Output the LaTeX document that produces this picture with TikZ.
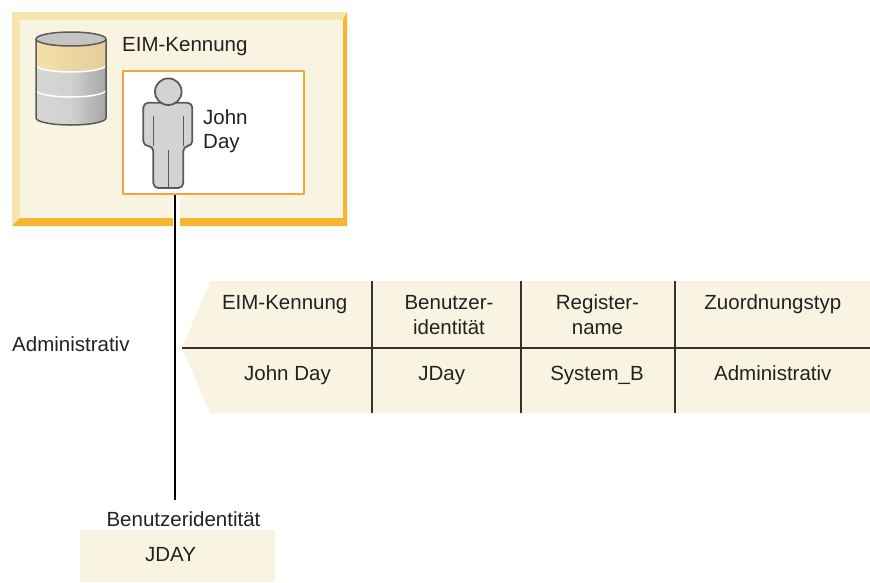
\documentclass[tikz,border=0pt]{standalone}
\usepackage{fontspec}
\setmainfont{Liberation Sans}
\definecolor{cream}{HTML}{F9F3E1}
\definecolor{borderlight}{HTML}{F8E5AE}
\definecolor{borderdark}{HTML}{F4B530}
\definecolor{orangeb}{HTML}{F6A53A}
\definecolor{textc}{HTML}{222222}
\definecolor{linec}{HTML}{333333}
\definecolor{cyltop}{HTML}{C4C4C4}
\definecolor{cyllight}{HTML}{D6D6D6}
\definecolor{cyldark}{HTML}{A6A6A6}
\definecolor{cylyellow}{HTML}{F6E0A8}
\definecolor{cylline}{HTML}{5A5A5A}
\definecolor{persfill}{HTML}{D3D3D3}
\definecolor{persline}{HTML}{5A5A5A}
\begin{document}
\begin{tikzpicture}[x=1pt,y=-1pt,line join=round,
  lbl/.style={font=\fontsize{20.5}{25}\selectfont, inner sep=0pt, text=textc},
  cell/.style={lbl, anchor=base},
  grid/.style={draw=linec, line width=1.3pt},
  conn/.style={draw=black, line width=2.4pt},
  cylarc/.style={x radius=35pt, y radius=7pt, start angle=180, end angle=360},
  pers/.style={fill=persfill, draw=persline, line width=1.8pt}]
\useasboundingbox (0,0) rectangle (870,582);

% outer EIM box with bevel
\fill[borderlight] (12,12) rectangle (347,226);
\fill[borderdark] (347,12) -- (347,226) -- (12,226) -- (20,218) -- (343,218) -- (343,20) -- cycle;
\fill[cream] (20,20) rectangle (343,218);

% database cylinder
\fill[left color=cyllight, right color=cyldark, middle color=cyllight!90!cyldark] (36,39) -- (36,118) arc[cylarc] -- (106,39) -- cycle;
\fill[left color=cylyellow, right color=cylyellow!92!black] (36,39) -- (36,65) arc[cylarc] -- (106,39) -- cycle;
\draw[white, line width=1.5pt] (36,65) arc[cylarc];
\draw[white, line width=1.5pt] (36,90) arc[cylarc];
\draw[cylline, line width=1.5pt] (36,39) -- (36,118) arc[cylarc] -- (106,39);
\filldraw[fill=cyltop, draw=cylline, line width=1.5pt] (71,39) ellipse[x radius=35pt, y radius=7pt];

\node[lbl, anchor=base west] (eimtitle) at (122,51.5) {EIM-Kennung};

% identity box
\node[draw=orangeb, fill=white, line width=2pt, minimum width=181pt, minimum height=123pt, anchor=north west, inner sep=0pt] (idbox) at (122,70) {};

% person
\filldraw[pers, rounded corners=5pt] (143.3,102.7) -- (192.3,102.7) -- (192.3,146) -- (183.3,146) -- (183.3,188) -- (153.3,188) -- (153.3,146) -- (143.3,146) -- cycle;
\draw[persline, line width=1.5pt] (153.3,116) -- (153.3,146) (183.3,116) -- (183.3,146) (168.3,150) -- (168.3,188);
\filldraw[pers] (168.3,91.7) circle[radius=13.3pt];

\node[lbl, anchor=base west] (jd1) at (203,124) {John};
\node[lbl, anchor=base west] (jd2) at (203,148.5) {Day};

% connector
\coordinate (lineEnd) at (175,500);
\draw[white, line width=7pt] ([xshift=1.5pt]lineEnd |- idbox.south) -- ([xshift=1.5pt]175,226);
\draw[conn] (lineEnd |- idbox.south) -- (lineEnd);

% mapping table
\fill[cream] (210,281) -- (870,281) -- (870,413) -- (210,413) -- (182,348) -- cycle;
\draw[grid] (182,348) -- (870,348);
\draw[grid] (372,281) -- (372,413);
\draw[grid] (521,281) -- (521,413);
\draw[grid] (675,281) -- (675,413);

\node[cell] (h1) at (284.7,309.3) {EIM-Kennung};
\node[cell] (h2a) at (449,309.3) {Benutzer-};
\node[cell] (h2b) at (449,334.3) {identität};
\node[cell] (h3a) at (597.5,309.3) {Register-};
\node[cell] (h3b) at (597.5,334.3) {name};
\node[cell] (h4) at (772.8,309.3) {Zuordnungstyp};
\node[cell] (r1) at (287.5,380) {John Day};
\node[cell] (r2) at (441.7,380) {JDay};
\node[cell] (r3) at (597,380) {System\_B};
\node[cell] (r4) at (772.8,380) {Administrativ};

\node[lbl, anchor=base west] (admin) at (12,351.7) {Administrativ};

% user identity
\node[lbl, anchor=base] (uid) at (183.5,526.7) {Benutzeridentität};
\fill[cream] (79.5,530) rectangle (275,582);
\node[lbl, anchor=base] (jday) at (170.5,561) {JDAY};
\end{tikzpicture}
\end{document}
